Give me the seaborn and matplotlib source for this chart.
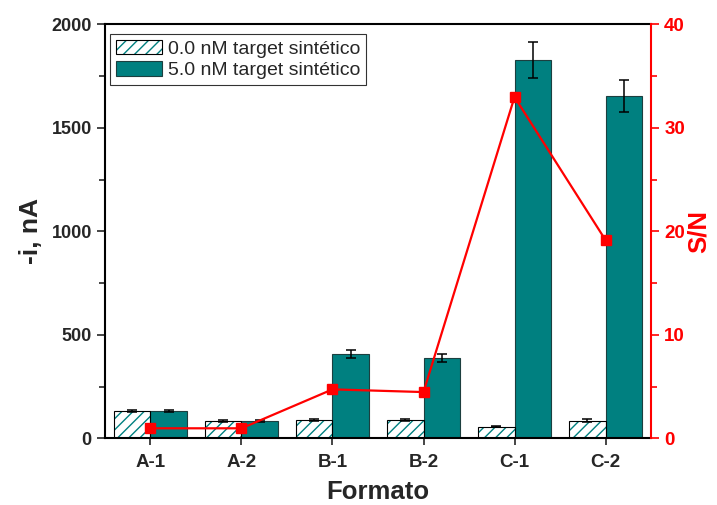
import numpy as np
import pandas as pd
import matplotlib
matplotlib.use("Agg")
import matplotlib.pyplot as plt
import matplotlib.patches as mpatches
from matplotlib.ticker import MultipleLocator
import seaborn as sns

formato = ["A-1", "A-2", "B-1", "B-2", "C-1", "C-2"]
series = ["0.0 nM target sintético", "5.0 nM target sintético"]
i_0nM = [133, 85, 87, 87, 57, 86]
err_0nM = [6, 5, 5, 5, 3, 5]
i_5nM = [133, 84, 407, 386, 1827, 1654]
err_5nM = [6, 4, 20, 19, 87, 78]
sn = [0.97, 0.97, 4.73, 4.47, 32.97, 19.15]

teal = "#008080"
dark_edge = "#1c3f3f"

sns.set_style("ticks")
plt.rcParams["font.family"] = ["Liberation Sans", "DejaVu Sans"]
plt.rcParams["hatch.linewidth"] = 1.0

data = pd.DataFrame({
    "Formato": formato * 2,
    "i": i_0nM + i_5nM,
    "serie": [series[0]] * 6 + [series[1]] * 6,
})

fig = plt.figure(figsize=(7.17, 5.05), dpi=100)
ax = fig.add_axes([0.1464, 0.132, 0.908 - 0.1464, 0.952 - 0.132])

sns.barplot(data=data, x="Formato", y="i", hue="serie", order=formato,
            hue_order=series, palette=[teal, teal], errorbar=None,
            legend=False, ax=ax, width=0.8, saturation=1)

bars = list(ax.patches)
errs = err_0nM + err_5nM
for k, p in enumerate(bars):
    if k < 6:
        p.set_facecolor("white")
        p.set_edgecolor(teal)
        p.set_hatch("///")
        p.set_linewidth(0)
        ax.add_patch(mpatches.Rectangle(p.get_xy(), p.get_width(), p.get_height(),
                                        fill=False, ec="black", lw=0.8, zorder=p.get_zorder() + 0.1))
    else:
        p.set_edgecolor(dark_edge)
        p.set_linewidth(0.8)
    cx = p.get_x() + p.get_width() / 2
    ax.errorbar(cx, p.get_height(), yerr=errs[k], color="black", lw=1.1,
                capsize=3.6, capthick=1.1, zorder=5)

ax.set_xlim(-0.5, 5.5)
ax.set_ylim(0, 2000)
ax.yaxis.set_major_locator(MultipleLocator(500))
ax.yaxis.set_minor_locator(MultipleLocator(250))
ax.set_xticks(ax.get_xticks())
ax.set_xticklabels(formato, fontweight="bold", fontsize=13.5)
ax.set_xlabel("Formato", fontsize=18.5, fontweight="bold", labelpad=7)
ax.set_ylabel("-i, nA", fontsize=19, fontweight="bold", labelpad=6)
ax.tick_params(axis="x", which="major", direction="out", length=5, width=1.2, pad=6)
ax.tick_params(axis="y", which="major", direction="out", length=6, width=1.2,
               labelsize=13)
ax.tick_params(axis="y", which="minor", direction="out", length=4, width=1.2)
for lab in ax.get_yticklabels():
    lab.set_fontweight("bold")
for s in ["left", "bottom", "top"]:
    ax.spines[s].set_linewidth(1.5)
    ax.spines[s].set_color("black")
ax.spines["right"].set_visible(False)

ax2 = ax.twinx()
xpos = ax.get_xticks()
ax2.plot(xpos, sn, color="red", lw=1.6, marker="s", markersize=6.5, zorder=6)
ax2.set_ylim(0, 40)
ax2.yaxis.set_major_locator(MultipleLocator(10))
ax2.yaxis.set_minor_locator(MultipleLocator(5))
ax2.set_ylabel("S/N", fontsize=18.5, fontweight="bold", color="red", labelpad=1)
ax2.tick_params(axis="y", which="major", direction="out", length=6, width=1.2,
                colors="red", labelsize=13.5)
ax2.tick_params(axis="y", which="minor", direction="out", length=4, width=1.2,
                colors="red")
for lab in ax2.get_yticklabels():
    lab.set_fontweight("bold")
ax2.spines["right"].set_color("red")
ax2.spines["right"].set_linewidth(1.5)
for s in ["left", "bottom", "top"]:
    ax2.spines[s].set_visible(False)

h0 = (mpatches.Patch(facecolor="white", edgecolor=teal, hatch="///", lw=0),
      mpatches.Patch(fill=False, edgecolor="black", lw=0.8))
h1 = mpatches.Patch(facecolor=teal, edgecolor=dark_edge, lw=0.8)
leg = ax.legend([h0, h1], series, loc="upper left", bbox_to_anchor=(0.009, 0.977),
                borderaxespad=0, fancybox=False, frameon=True, edgecolor="black",
                fontsize=14, handlelength=2.4, handleheight=0.8,
                handletextpad=0.3, borderpad=0.3, labelspacing=0.15)
leg.get_frame().set_linewidth(0.8)
leg.set_zorder(10)

fig.savefig("out.png", dpi=100)
